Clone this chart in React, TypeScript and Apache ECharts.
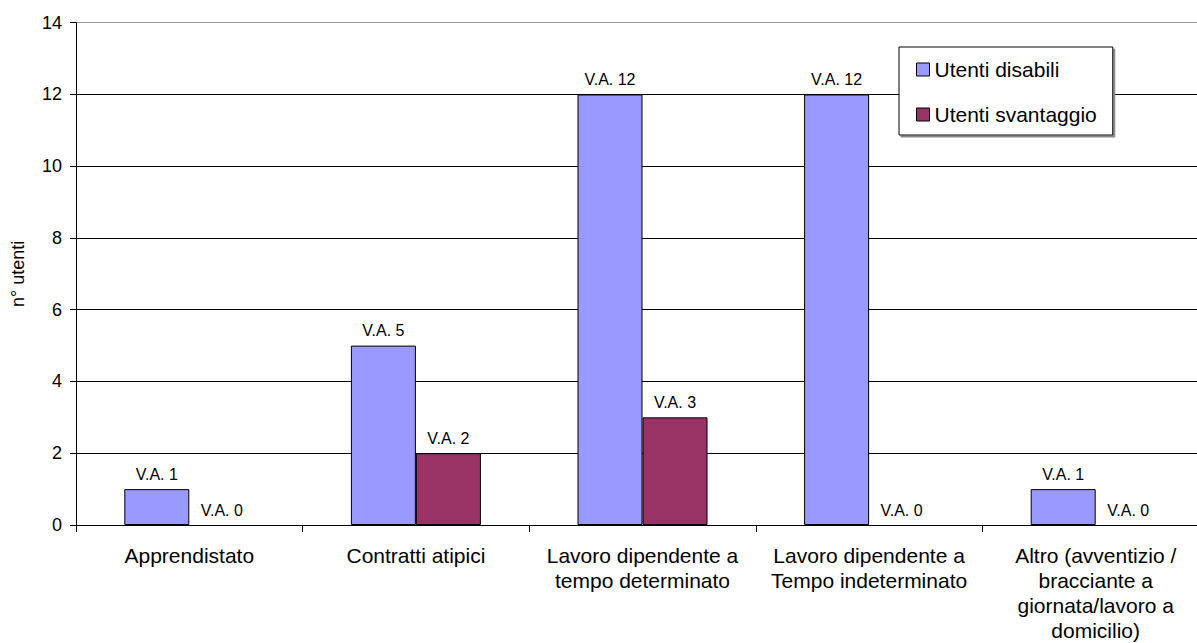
import React, { useEffect, useRef } from "react";
import * as echarts from "echarts";

const categories = [
  "Apprendistato",
  "Contratti atipici",
  "Lavoro dipendente a\ntempo determinato",
  "Lavoro dipendente a\nTempo indeterminato",
  "Altro (avventizio /\nbracciante a\ngiornata/lavoro a\ndomicilio)",
];
const seriesNames = ["Utenti disabili", "Utenti svantaggio"];
const disabili = [1, 5, 12, 12, 1];
const svantaggio = [0, 2, 3, 0, 0];
const yTicks = { min: 0, max: 14, interval: 2 };
const yAxisName = "n° utenti";

const FONT = "Arial, 'Liberation Sans', sans-serif";

const toItems = (arr: number[]) =>
  arr.map((v) => (v === 0 ? { value: v, itemStyle: { borderWidth: 0 } } : v));

export default function App() {
  const ref = useRef<HTMLDivElement>(null);
  useEffect(() => {
    document.body.style.margin = "0";
    if (!ref.current) return;
    const chart = echarts.init(ref.current, null, { renderer: "svg" });
    const labelCfg = {
      show: true,
      position: "top" as const,
      distance: 7,
      formatter: "V.A. {c}",
      color: "#000",
      fontSize: 16,
      fontFamily: FONT,
    };
    chart.setOption({
      animation: false,
      textStyle: { fontFamily: FONT },
      grid: { left: 76, right: 0, top: 22.7, bottom: 116.3, containLabel: false },
      legend: {
        orient: "vertical",
        left: 899,
        top: 47,
        padding: [12, 16, 10, 17],
        itemWidth: 13,
        itemHeight: 13,
        itemGap: 24,
        backgroundColor: "#fff",
        borderColor: "#000",
        borderWidth: 1,
        shadowColor: "#888",
        shadowOffsetX: 2,
        shadowOffsetY: 2,
        shadowBlur: 0,
        icon: "rect",
        itemStyle: { borderColor: "#000", borderWidth: 1 },
        textStyle: { fontSize: 21, color: "#000", fontFamily: FONT, lineHeight: 21 },
        data: seriesNames,
      },
      xAxis: {
        type: "category",
        data: categories,
        axisLine: { lineStyle: { color: "#000", width: 1 } },
        axisTick: { show: true, alignWithLabel: false, length: 7, lineStyle: { color: "#000" } },
        axisLabel: {
          color: "#000",
          fontSize: 21,
          lineHeight: 25,
          margin: 18,
          interval: 0,
          fontFamily: FONT,
        },
        splitLine: { show: false },
      },
      yAxis: {
        type: "value",
        min: yTicks.min,
        max: yTicks.max,
        interval: yTicks.interval,
        name: yAxisName,
        nameLocation: "middle",
        nameRotate: 90,
        nameGap: 49,
        nameTextStyle: { color: "#000", fontSize: 18, fontFamily: FONT },
        axisLine: { show: true, lineStyle: { color: "#000", width: 1 } },
        axisTick: { show: true, length: 6, lineStyle: { color: "#000" } },
        axisLabel: { color: "#000", fontSize: 18, margin: 14, fontFamily: FONT },
        splitLine: {
          show: true,
          lineStyle: {
            color: ["#000", "#000", "#000", "#000", "#000", "#000", "#000", "#999"],
            width: 1,
          },
        },
      },
      series: [
        {
          name: seriesNames[0],
          type: "bar",
          data: toItems(disabili),
          barWidth: 65,
          barGap: "0%",
          itemStyle: { color: "#9999FF", borderColor: "#000", borderWidth: 1 },
          label: labelCfg,
        },
        {
          name: seriesNames[1],
          type: "bar",
          data: toItems(svantaggio),
          barWidth: 65,
          barGap: "0%",
          itemStyle: { color: "#993366", borderColor: "#000", borderWidth: 1 },
          label: labelCfg,
        },
      ],
    });
    return () => chart.dispose();
  }, []);
  return (
    <div style={{ position: "absolute", left: 0, top: 0, width: 1197, height: 643, overflow: "hidden" }}>
      <div ref={ref} style={{ width: 1209, height: 643 }} />
    </div>
  );
}
